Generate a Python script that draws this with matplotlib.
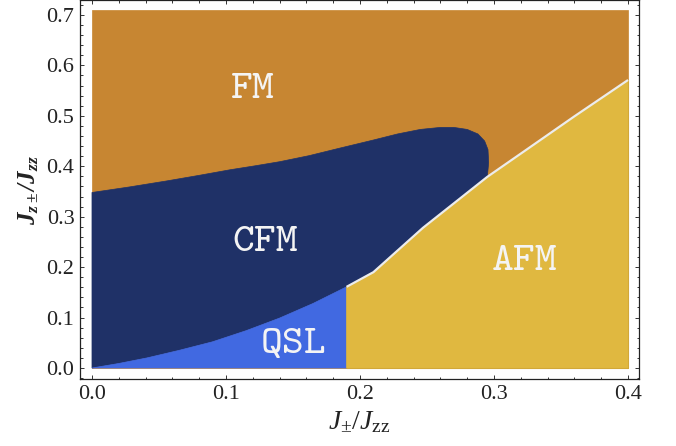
import matplotlib
matplotlib.use("Agg")
import matplotlib.pyplot as plt
from matplotlib.ticker import MultipleLocator

plt.rcParams['font.family'] = ['Liberation Serif', 'DejaVu Serif']
plt.rcParams['mathtext.fontset'] = 'custom'
plt.rcParams['mathtext.rm'] = 'Liberation Serif'
plt.rcParams['mathtext.it'] = 'Liberation Serif:italic'
plt.rcParams['mathtext.bf'] = 'Liberation Serif:italic:bold'

# phase boundaries
x_max, y_max = 0.4, 0.71

# QSL / CFM boundary
qsl_x = [0.0, 0.020, 0.041, 0.065, 0.090, 0.115, 0.140, 0.165, 0.19]
qsl_y = [0.0, 0.009, 0.020, 0.035, 0.052, 0.074, 0.099, 0.128, 0.161]

# AFM boundary (white line)
afm_x = [0.19, 0.21, 0.247, 0.295, 0.327, 0.36, 0.4]
afm_y = [0.161, 0.19, 0.278, 0.379, 0.438, 0.499, 0.571]

# FM / CFM boundary, ends on the AFM line
cfm_x = [0.0, 0.028, 0.056, 0.080, 0.103, 0.122, 0.140, 0.162, 0.185, 0.21, 0.228,
         0.245, 0.26, 0.270, 0.280, 0.288, 0.293, 0.2955, 0.296, 0.295]
cfm_y = [0.348, 0.359, 0.371, 0.382, 0.393, 0.401, 0.409, 0.421, 0.436, 0.452, 0.464,
         0.473, 0.477, 0.477, 0.473, 0.464, 0.450, 0.433, 0.407, 0.379]

phase_names = ['FM', 'CFM', 'QSL', 'AFM']
label_x = [0.120, 0.129, 0.150, 0.323]
label_y = [0.552, 0.248, 0.046, 0.210]

c_fm = '#C78632'
c_cfm = '#1F3167'
c_qsl = '#4169E1'
c_afm = '#E0B840'

fig = plt.figure(figsize=(6.76, 4.46), dpi=100)
ax = fig.add_axes([0.1183, 0.1502, 0.8270, 0.8488])

# FM fills the whole box, other phases on top
ax.fill([0, x_max, x_max, 0], [0, 0, y_max, y_max], color=c_fm, lw=0.5)

cfm_px = qsl_x + afm_x[1:4] + cfm_x[::-1][1:]
cfm_py = qsl_y + afm_y[1:4] + cfm_y[::-1][1:]
ax.fill(cfm_px, cfm_py, color=c_cfm, lw=0.5)

ax.fill([0, qsl_x[-1]] + qsl_x[::-1], [0, 0] + qsl_y[::-1], color=c_qsl, lw=0.5)

ax.fill([afm_x[0], x_max] + afm_x[::-1], [0, 0] + afm_y[::-1], color=c_afm, lw=0.5)
ax.plot([x_max, x_max, afm_x[0]], [afm_y[-1], 0, 0], color='#D2A838', lw=0.8)

ax.plot(afm_x, afm_y, color='#ECECEC', lw=1.6, solid_capstyle='butt')

for name, tx, ty in zip(phase_names, label_x, label_y):
    ax.text(tx, ty, name, color='#F4F4F4', fontsize=30, family='cmtt10',
            ha='center', va='center')

ax.set_xlim(-0.00896, 0.4082)
ax.set_ylim(-0.0218, 0.7287)

ax.xaxis.set_major_locator(MultipleLocator(0.1))
ax.xaxis.set_minor_locator(MultipleLocator(0.02))
ax.yaxis.set_major_locator(MultipleLocator(0.1))
ax.yaxis.set_minor_locator(MultipleLocator(0.02))
ax.xaxis.set_major_formatter(plt.FuncFormatter(lambda v, p: '%.1f' % v))
ax.yaxis.set_major_formatter(plt.FuncFormatter(lambda v, p: '%.1f' % v))

ax.tick_params(which='both', direction='in', top=True, right=True, width=0.7,
               color='#333333', labelsize=16, labelcolor='#222222')
ax.tick_params(which='major', length=3.2, pad=4)
ax.tick_params(which='minor', length=1.8)
for s in ax.spines.values():
    s.set_linewidth(0.9)
    s.set_color('#222222')

ax.set_xlabel(r'$J_{\mathrm{\pm}}/J_{\mathrm{zz}}$', fontsize=20, labelpad=4, color='#222222')
ax.set_ylabel(r'$\mathbf{J_{z\pm}/J_{zz}}$', fontsize=18, labelpad=4, color='#222222')

fig.savefig('out.png', dpi=100)
